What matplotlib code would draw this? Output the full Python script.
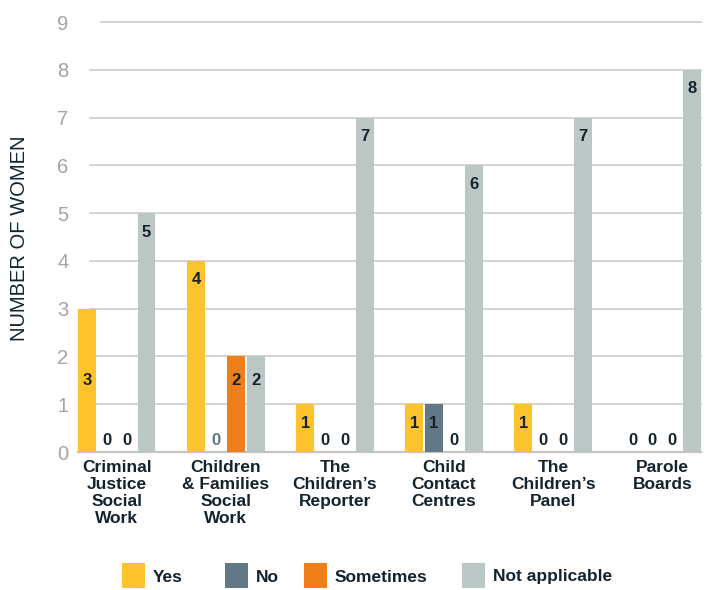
import matplotlib
matplotlib.use("Agg")
import matplotlib.pyplot as plt
from matplotlib.patches import Rectangle
import matplotlib.transforms as mtransforms

plt.rcParams['font.family'] = ['Liberation Sans', 'DejaVu Sans']

categories = [
    "Criminal\nJustice\nSocial\nWork",
    "Children\n& Families\nSocial\nWork",
    "The\nChildren\u2019s\nReporter",
    "Child\nContact\nCentres",
    "The\nChildren\u2019s\nPanel",
    "Parole\nBoards",
]
series_names = ["Yes", "No", "Sometimes", "Not applicable"]
yes = [3, 4, 1, 1, 1, 0]
no = [0, 0, 0, 1, 0, 0]
sometimes = [0, 2, 0, 0, 0, 0]
not_applicable = [5, 2, 7, 6, 7, 8]
y_ticks = list(range(0, 10))

colors = ["#FDC22C", "#627887", "#EE7F1B", "#BBC7C5"]
dark = "#14232e"
series_values = [yes, no, sometimes, not_applicable]

fig = plt.figure(figsize=(7.09, 5.90), dpi=100)
W, H = 709, 590
ax = fig.add_axes([78 / W, 1 - 452 / H, (701 - 78) / W, (452 - 22) / H])

bar_w = 0.164
step = 0.182
for j, (vals, col) in enumerate(zip(series_values, colors)):
    xs = [i + j * step for i in range(len(categories))]
    ax.bar(xs, vals, width=bar_w, align='edge', color=col, zorder=3, linewidth=0)
    for i, (x, v) in enumerate(zip(xs, vals)):
        if v == 0:
            ty = 0.25
        elif (j == 0 and i == 0) or v == 2:
            ty = v - 0.5 if v == 2 else v / 2
        else:
            ty = v - 0.4
        tcol = dark
        if v == 0 and j == 1 and i == 1:
            tcol = "#5f7585"
        ax.text(x + bar_w / 2, ty, str(v), ha='center', va='center',
                fontsize=12, fontweight='bold', color=tcol, zorder=4)

ax.set_ylim(0, 9)
ax.set_xlim(0, 5 + 3 * step + bar_w)

# horizontal gridlines
blend = mtransforms.blended_transform_factory(ax.transAxes, ax.transData)
for t in y_ticks[1:]:
    x0 = 0.037 if t == 9 else 0.019
    ax.plot([x0, 1.0], [t, t], transform=blend, color="#cfcfd4",
            linewidth=1.3, zorder=1, clip_on=False)
ax.plot([0, 1.0], [0, 0], transform=blend, color="#c4c4c8",
        linewidth=1.6, zorder=2, clip_on=False)

for s in ax.spines.values():
    s.set_visible(False)

ax.set_yticks(y_ticks)
ax.set_yticklabels([str(t) for t in y_ticks], fontsize=14.5, color="#a3a3a3")
ax.tick_params(axis='y', length=0, pad=7)

centers = [i + (3 * step + bar_w) / 2 for i in range(len(categories))]
ax.set_xticks(centers)
ax.set_xticklabels(categories, fontsize=12.5, fontweight='bold', color=dark,
                   linespacing=1.17)
ax.tick_params(axis='x', length=0, pad=6)

fig.text(20 / W, 1 - 238 / H, "NUMBER OF WOMEN", rotation=90, fontsize=14.5,
         color=dark, ha='center', va='center')

# legend
legend_x = [122, 225, 304, 462]
for name, col, lx in zip(series_names, colors, legend_x):
    fig.add_artist(Rectangle((lx / W, 1 - 588 / H), 23 / W, 25 / H,
                             transform=fig.transFigure, color=col, linewidth=0))
    fig.text((lx + 31) / W, 1 - 577 / H, name, fontsize=12.5, fontweight='bold',
             color=dark, ha='left', va='center')

fig.savefig("out.png", dpi=100)
